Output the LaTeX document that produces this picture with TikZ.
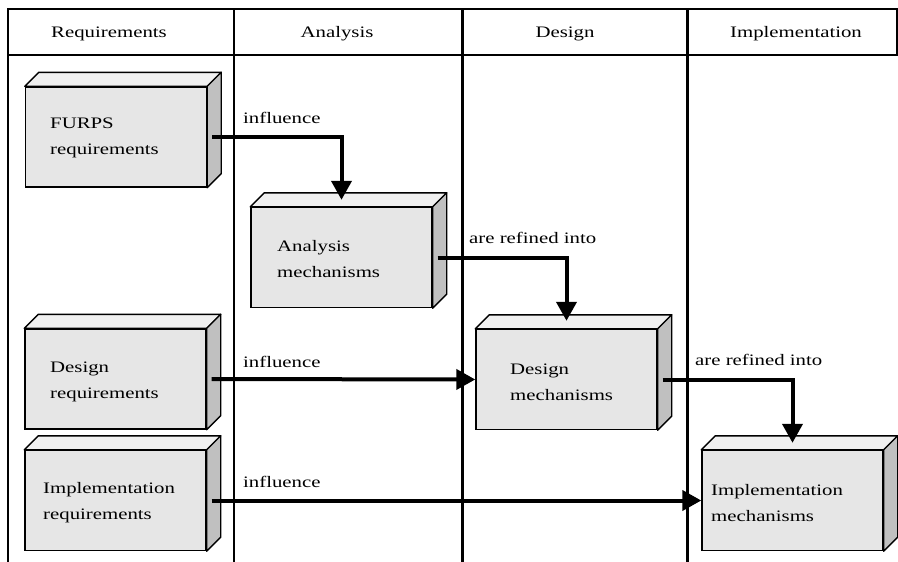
\documentclass[tikz,border=0pt]{standalone}
\usepackage{fontspec}
\setmainfont[FakeStretch=1.3]{Liberation Serif}
\usetikzlibrary{arrows.meta,calc}
\definecolor{frontgray}{RGB}{230,230,230}
\definecolor{topgray}{RGB}{240,240,240}
\definecolor{sidegray}{RGB}{192,192,192}
\tikzset{
  front/.style={draw=black, line width=1.4pt, fill=frontgray, minimum width=181pt, minimum height=100pt, inner sep=0pt},
  facet/.style={draw=black, line width=1.4pt, line join=round},
  boxtext/.style={font=\fontsize{16}{26}\selectfont, inner sep=0pt, align=left, anchor=west},
  lbl/.style={font=\fontsize{16}{19}\selectfont, inner sep=0pt, anchor=base west},
  headtext/.style={font=\fontsize{16}{19}\selectfont, inner sep=0pt, anchor=base},
  flow/.style={line width=4pt, -{Triangle[length=19pt,width=20pt]}},
  grid/.style={draw=black},
}
\newcommand\cuboid[1]{%
  \draw[facet, fill=topgray] (#1.north west) -- ++(14pt,14pt) -- ($(#1.north east)+(14pt,14pt)$) -- (#1.north east) -- cycle;
  \draw[facet, fill=sidegray] (#1.north east) -- ++(14pt,14pt) -- ($(#1.south east)+(14pt,14pt)$) -- (#1.south east) -- cycle;
}
\begin{document}
\begin{tikzpicture}[x=1pt,y=-1pt]
\useasboundingbox[fill=white] (0,0) rectangle (898,562);
% table
\draw[grid, line width=2pt] (8,9) rectangle (897,55);
\draw[grid, line width=1.5pt] (8,55) -- (8,562);
\draw[grid, line width=1.3pt] (234,9) -- (234,562);
\draw[grid, line width=3pt] (462,9) -- (462,562);
\draw[grid, line width=3pt] (687,9) -- (687,562);
\node[headtext] (h1) at (109,37) {Requirements};
\node[headtext] (h2) at (337,37) {Analysis};
\node[headtext] (h3) at (565,37) {Design};
\node[headtext] (h4) at (796,37) {Implementation};
% boxes
\node[front] (furps) at (116,137) {};
\cuboid{furps}
\node[boxtext] (furpsT) at (50,138) {FURPS\\requirements};
\node[front] (anamech) at (341.5,257.5) {};
\cuboid{anamech}
\node[boxtext] (anamechT) at (277,259) {Analysis\\mechanisms};
\node[front] (desreq) at (115.5,379) {};
\cuboid{desreq}
\node[boxtext] (desreqT) at (50,382) {Design\\requirements};
\node[front] (impreq) at (115.5,500.5) {};
\cuboid{impreq}
\node[boxtext] (impreqT) at (43,503) {Implementation\\requirements};
\node[front] (desmech) at (566.5,379.5) {};
\cuboid{desmech}
\node[boxtext] (desmechT) at (510,382) {Design\\mechanisms};
\node[front] (impmech) at (792.5,500.5) {};
\cuboid{impmech}
\node[boxtext] (impmechT) at (711,503) {Implementation\\mechanisms};
% connectors
\draw[flow] ([xshift=5pt]furps.east) -| ([yshift=7pt]anamech.north);
\draw[flow] ([xshift=5pt]anamech.east) -| ([yshift=8pt]desmech.north);
\draw[flow] ([xshift=5pt]desmech.east) -| ([yshift=7pt]impmech.north);
\draw[flow] ([xshift=5pt]desreq.east) -- (desmech.west);
\draw[flow] ([xshift=5pt]impreq.east) -- (impmech.west);
% labels
\node[lbl] (l1) at (243,123) {influence};
\node[lbl] (l2) at (469,243) {are refined into};
\node[lbl] (l3) at (243,367) {influence};
\node[lbl] (l4) at (695,365) {are refined into};
\node[lbl] (l5) at (243,487) {influence};
\end{tikzpicture}
\end{document}
